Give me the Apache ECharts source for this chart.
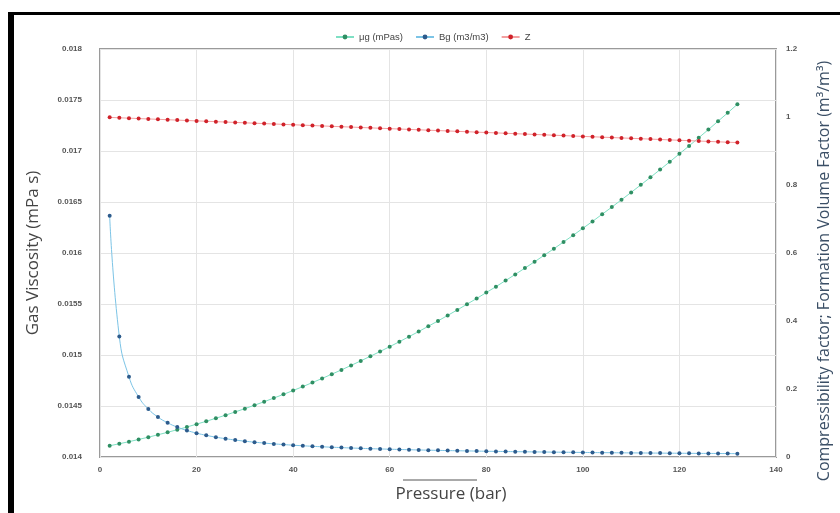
<!DOCTYPE html>
<html>
<head>
<meta charset="utf-8">
<script src="https://cdn.jsdelivr.net/npm/echarts@6/dist/echarts.min.js"></script>
<style>
  html, body { margin: 0; padding: 0; background: #fff; }
  #chart { width: 840px; height: 513px; }
</style>
</head>
<body>
<div id="chart"></div>
<script>
// pressure (bar)
const pressure = [2, 4, 6, 8, 10, 12, 14, 16, 18, 20, 22, 24, 26, 28, 30, 32, 34, 36, 38, 40,
  42, 44, 46, 48, 50, 52, 54, 56, 58, 60, 62, 64, 66, 68, 70, 72, 74, 76, 78, 80,
  82, 84, 86, 88, 90, 92, 94, 96, 98, 100, 102, 104, 106, 108, 110, 112, 114, 116, 118, 120,
  122, 124, 126, 128, 130, 132];

// gas viscosity (mPa s) - left axis
const viscosity = [0.01411, 0.01413, 0.01415, 0.014172, 0.014194, 0.014218, 0.014242, 0.014268, 0.014294, 0.014322,
  0.01435, 0.01438, 0.01441, 0.014442, 0.014474, 0.014508, 0.014542, 0.014578, 0.014614, 0.014652,
  0.01469, 0.01473, 0.01477, 0.014812, 0.014854, 0.014898, 0.014942, 0.014988, 0.015034, 0.015082,
  0.01513, 0.01518, 0.01523, 0.015282, 0.015334, 0.015388, 0.015442, 0.015498, 0.015554, 0.015612,
  0.01567, 0.01573, 0.01579, 0.015852, 0.015914, 0.015978, 0.016042, 0.016108, 0.016174, 0.016242,
  0.01631, 0.01638, 0.01645, 0.016522, 0.016594, 0.016668, 0.016742, 0.016818, 0.016894, 0.016972,
  0.01705, 0.01713, 0.01721, 0.017292, 0.017374, 0.017458];

// formation volume factor (m3/m3) - right axis
const bg = [0.7092, 0.3542, 0.2359, 0.1767, 0.1412, 0.1175, 0.1006, 0.0879, 0.0781, 0.0702,
  0.0637, 0.0584, 0.0538, 0.0499, 0.0465, 0.0436, 0.0410, 0.0386, 0.0366, 0.0347,
  0.0330, 0.0315, 0.0301, 0.0288, 0.0276, 0.0265, 0.0255, 0.0245, 0.0237, 0.0229,
  0.0221, 0.0214, 0.0207, 0.0201, 0.0195, 0.0189, 0.0184, 0.0179, 0.0174, 0.0169,
  0.0165, 0.0161, 0.0157, 0.0153, 0.0150, 0.0146, 0.0143, 0.0140, 0.0137, 0.0134,
  0.0131, 0.0128, 0.0126, 0.0123, 0.0121, 0.0119, 0.0116, 0.0114, 0.0112, 0.0110,
  0.0108, 0.0106, 0.0105, 0.0103, 0.0101, 0.0099];

// compressibility factor - right axis
const zFactor = [0.9989, 0.9977, 0.9966, 0.9954, 0.9943, 0.9932, 0.9920, 0.9909, 0.9897, 0.9886,
  0.9875, 0.9863, 0.9852, 0.9840, 0.9829, 0.9818, 0.9806, 0.9795, 0.9783, 0.9772,
  0.9761, 0.9749, 0.9738, 0.9726, 0.9715, 0.9704, 0.9692, 0.9681, 0.9669, 0.9658,
  0.9647, 0.9635, 0.9624, 0.9612, 0.9601, 0.9590, 0.9578, 0.9567, 0.9555, 0.9544,
  0.9533, 0.9521, 0.9510, 0.9498, 0.9487, 0.9476, 0.9464, 0.9453, 0.9441, 0.9430,
  0.9419, 0.9407, 0.9396, 0.9384, 0.9373, 0.9362, 0.9350, 0.9339, 0.9327, 0.9316,
  0.9305, 0.9293, 0.9282, 0.9270, 0.9259, 0.9248];

const seriesNames = ['μg (mPas)', 'Bg (m3/m3)', 'Z'];

let myChart = echarts.init(document.getElementById('chart'));

const pairs = (ys) => pressure.map((p, i) => [p, ys[i]]);

const tickLabel = { fontSize: 8, color: '#555', fontWeight: 'bold', fontFamily: 'Liberation Sans' };

const option = {
  animation: false,
  backgroundColor: '#fff',
  legend: {
    data: seriesNames,
    top: 27,
    left: 330,
    itemWidth: 18,
    itemHeight: 6,
    itemGap: 12,
    textStyle: { fontSize: 9.5, color: '#444', fontFamily: 'Liberation Sans' }
  },
  grid: {
    left: 100, right: 64, top: 49, bottom: 56,
    show: true,
    borderColor: '#9a9a9a',
    borderWidth: 2
  },
  xAxis: {
    type: 'value',
    min: 0, max: 140, interval: 20,
    name: 'Pressure (bar)',
    nameLocation: 'middle',
    nameGap: 29,
    nameTextStyle: { fontSize: 17, color: '#444', fontFamily: 'Open Sans', padding: [0, 0, 0, 26] },
    axisLine: { show: false },
    axisTick: { show: false },
    axisLabel: Object.assign({ margin: 9 }, tickLabel),
    splitLine: { show: true, lineStyle: { color: '#e4e4e4', width: 1 } }
  },
  yAxis: [{
    type: 'value',
    min: 0.014, max: 0.018, interval: 0.0005,
    name: 'Gas Viscosity (mPa s)',
    nameLocation: 'middle',
    nameGap: 58,
    nameTextStyle: { fontSize: 17, color: '#444', fontFamily: 'Open Sans' },
    axisLine: { show: false },
    axisTick: { show: false },
    axisLabel: Object.assign({ margin: 18 }, tickLabel),
    splitLine: { show: true, lineStyle: { color: '#e4e4e4', width: 1 } }
  }, {
    type: 'value',
    min: 0, max: 1.2, interval: 0.2,
    name: 'Compressibility factor; Formation Volume Factor (m³/m³)',
    nameLocation: 'middle',
    nameGap: 40,
    nameRotate: 90,
    nameTextStyle: { fontSize: 16, color: '#3b4f66', fontFamily: 'Open Sans', padding: [0, 36, 0, 0] },
    axisLine: { show: false },
    axisTick: { show: false },
    axisLabel: Object.assign({ margin: 10 }, tickLabel),
    splitLine: { show: false }
  }],
  series: [{
    name: seriesNames[0],
    type: 'line',
    yAxisIndex: 0,
    data: pairs(viscosity),
    symbol: 'circle',
    symbolSize: 4,
    lineStyle: { color: '#7fe0c4', width: 1 },
    itemStyle: { color: '#2f8f63' }
  }, {
    name: seriesNames[1],
    type: 'line',
    yAxisIndex: 1,
    data: pairs(bg),
    symbol: 'circle',
    symbolSize: 4,
    smooth: true,
    lineStyle: { color: '#7cc4e6', width: 1 },
    itemStyle: { color: '#2d5b8c' }
  }, {
    name: seriesNames[2],
    type: 'line',
    yAxisIndex: 1,
    data: pairs(zFactor),
    symbol: 'circle',
    symbolSize: 4,
    lineStyle: { color: '#f3a0a0', width: 1 },
    itemStyle: { color: '#d0222a' }
  }],
  graphic: [
    // black frame on the left and top of the picture
    { type: 'rect', shape: { x: 8, y: 12, width: 6, height: 501 }, style: { fill: '#000' } },
    { type: 'rect', shape: { x: 8, y: 12, width: 832, height: 3 }, style: { fill: '#000' } },
    // stray underline under the x axis
    { type: 'line', shape: { x1: 403, y1: 480, x2: 477, y2: 480 }, style: { stroke: '#555', lineWidth: 1 } }
  ]
};

myChart.setOption(option);
</script>
</body>
</html>
